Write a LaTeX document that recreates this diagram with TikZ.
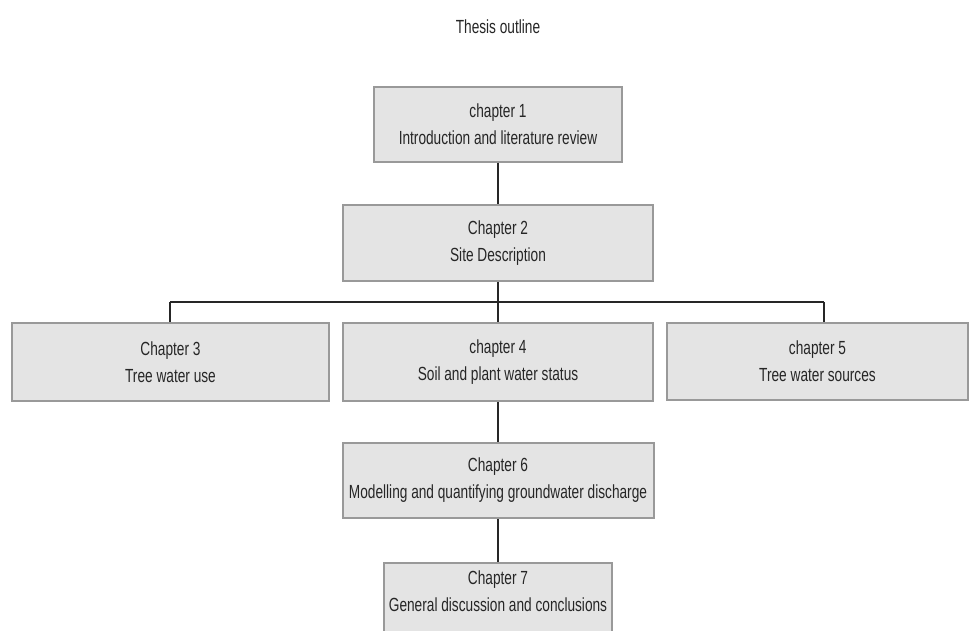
\documentclass[tikz,border=0pt]{standalone}
\usepackage{fontspec}
\setmainfont{Liberation Sans}[FakeStretch=0.72]
\definecolor{boxfill}{HTML}{E4E4E4}
\definecolor{boxline}{HTML}{999999}
\definecolor{txt}{HTML}{262626}
\begin{document}
\begin{tikzpicture}[x=1pt,y=-1pt,
  chbox/.style={draw=boxline, line width=2pt, fill=boxfill, text=txt, align=center,
    font=\fontsize{19}{27}\selectfont, inner sep=0pt},
  link/.style={draw=black!85, line width=2pt}]
\clip (0,0) rectangle (970,630);
\useasboundingbox (0,0) rectangle (970,630);
\fill[white] (0,0) rectangle (970,630);
\node[text=txt, font=\fontsize{19}{22}\selectfont] (title) at (498,27) {Thesis outline};
\node[chbox, minimum width=248pt, minimum height=75pt] (b1) at (498,124) {chapter 1\\Introduction and literature review};
\node[chbox, minimum width=310pt, minimum height=76pt] (b2) at (498,243) {Chapter 2\\Site Description};
\node[chbox, minimum width=317pt, minimum height=78pt] (b3) at (170.5,362) {Chapter 3\\Tree water use};
\node[chbox, minimum width=310pt, minimum height=78pt] (b4) at (498,362) {chapter 4\\Soil and plant water status};
\node[chbox, minimum width=301pt, minimum height=77pt] (b5) at (817.5,361) {chapter 5\\Tree water sources};
\node[chbox, minimum width=311pt, minimum height=75pt] (b6) at (498,480.5) {Chapter 6\\Modelling and quantifying groundwater discharge};
\node[chbox, minimum width=228pt, minimum height=75pt, anchor=north] (b7) at (498,562) {};
\node[text=txt, align=center, font=\fontsize{19}{27}\selectfont, inner sep=0pt] (t7) at (498,591) {Chapter 7\\General discussion and conclusions};
\coordinate (j3) at (170,302);
\coordinate (j5) at (824,302);
\draw[link] (b1.south) -- (b2.north);
\draw[link] (b2.south) -- (b4.north);
\draw[link] (j3) -- (j5);
\draw[link] (j3) -- (j3 |- b3.north);
\draw[link] (j5) -- (j5 |- b5.north);
\draw[link] (b4.south) -- (b6.north);
\draw[link] (b6.south) -- (b7.north);
\end{tikzpicture}
\end{document}
